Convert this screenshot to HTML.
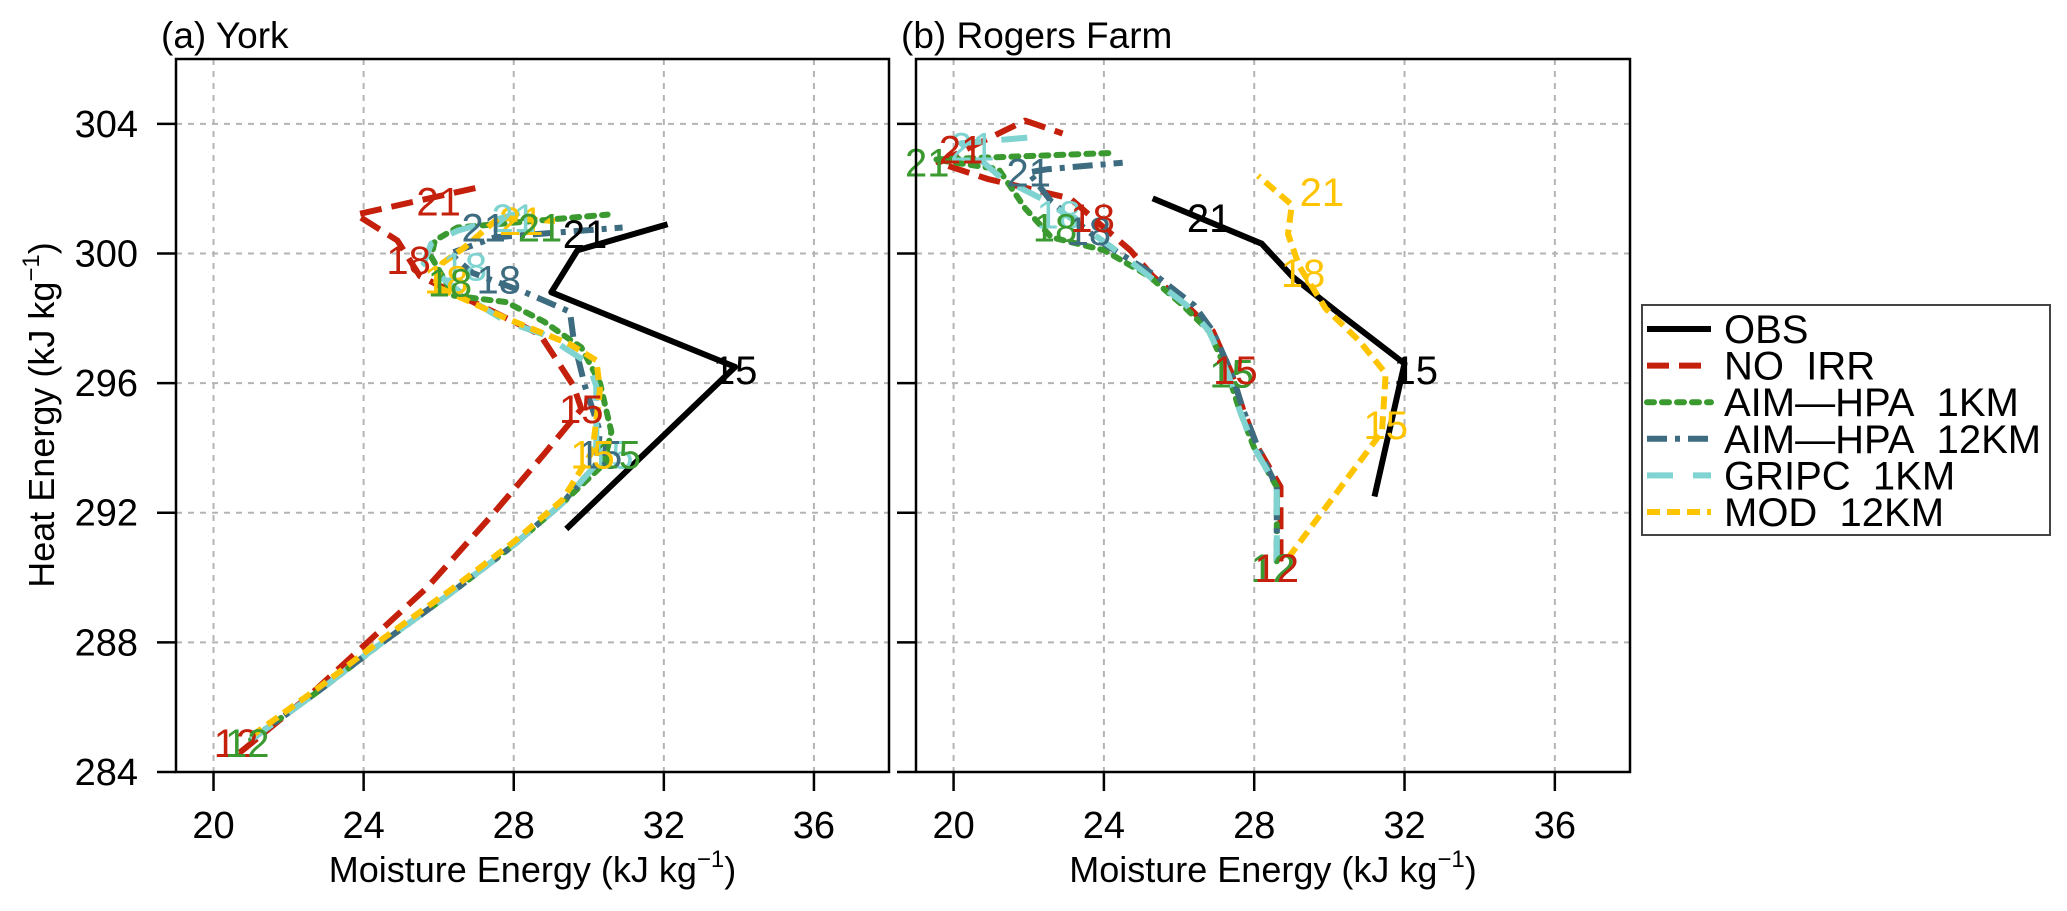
<!DOCTYPE html>
<html><head><meta charset="utf-8">
<style>
html,body{margin:0;padding:0;background:#fff;}
svg{display:block;font-family:"Liberation Sans","DejaVu Sans",sans-serif;}
</style></head>
<body>
<svg id="chart" width="2067" height="911" viewBox="0 0 2067 911"></svg>
<script>
// ---- data ----
const seriesNames = ["OBS","NO IRR","AIM-HPA 1KM","AIM-HPA 12KM","GRIPC 1KM","MOD 12KM"];
const xTicks = [20,24,28,32,36];
const yTicks = [284,288,292,296,300,304];

// Panel (a) York : [moisture, heat]
const yorkObs   = [[29.4,291.5],[33.9,296.5],[29.0,298.8],[29.7,300.1],[32.1,300.9]];
const yorkNoIrr = [[20.7,284.6],[22.5,286.3],[24.1,288.0],[25.7,289.7],[27.4,291.9],[28.8,293.8],[29.8,295.2],[29.6,295.9],[28.7,297.5],[27.1,298.4],[25.5,299.3],[24.9,300.4],[23.8,301.2],[27.1,302.05]];
const yorkAim1  = [[21.0,285.0],[22.8,286.5],[24.5,288.0],[26.3,289.5],[28.0,291.0],[29.3,292.3],[30.4,293.5],[30.6,294.5],[30.3,296.0],[29.8,297.1],[28.8,297.9],[27.8,298.5],[26.4,298.7],[25.8,299.9],[25.9,300.4],[26.5,300.8],[30.5,301.2]];
const yorkAim12 = [[21.0,285.0],[22.8,286.5],[24.5,288.0],[26.3,289.5],[28.0,291.0],[29.3,292.3],[30.2,293.5],[30.3,294.5],[29.9,295.9],[29.6,297.3],[29.5,298.2],[28.3,298.8],[26.9,299.4],[26.3,300.0],[27.5,300.5],[30.9,300.8]];
const yorkGripc = [[21.0,285.0],[22.8,286.5],[24.5,288.0],[26.3,289.5],[28.0,291.0],[29.3,292.3],[30.2,293.5],[30.2,294.6],[30.2,295.9],[30.0,296.6],[28.8,297.5],[27.8,297.9],[26.8,298.6],[25.6,299.7],[25.8,300.3],[26.5,300.7],[28.6,301.4]];
const yorkMod   = [[21.0,285.1],[22.8,286.6],[24.5,288.1],[26.3,289.6],[28.0,291.1],[29.3,292.4],[30.1,293.9],[30.3,295.8],[30.2,296.7],[29.5,297.2],[27.8,298.0],[25.9,299.0],[26.1,299.7],[26.7,300.2],[27.6,301.1],[29.1,301.0]];

// Panel (b) Rogers Farm
const rogersObs   = [[31.2,292.5],[32.0,296.6],[30.2,298.2],[29.0,299.3],[28.2,300.3],[25.3,301.7]];
const rogersNoIrr = [[28.7,290.5],[28.7,292.8],[28.1,294.0],[27.7,295.2],[27.4,296.3],[26.9,297.6],[26.2,298.4],[25.3,299.3],[24.7,300.1],[23.1,301.7],[20.9,302.3],[19.6,302.8],[21.9,304.1],[22.9,303.7]];
const rogersAim1  = [[28.6,290.5],[28.6,292.8],[28.0,294.0],[27.6,295.2],[27.3,296.3],[26.8,297.6],[26.1,298.4],[25.2,299.3],[24.0,300.1],[22.6,300.5],[21.9,301.4],[21.2,302.6],[19.5,302.9],[24.2,303.1]];
const rogersAim12 = [[28.6,290.5],[28.6,292.8],[28.1,294.0],[27.7,295.2],[27.4,296.3],[26.9,297.6],[26.4,298.4],[25.4,299.3],[24.0,300.3],[22.6,301.6],[22.0,302.5],[22.5,302.6],[24.5,302.8]];
const rogersGripc = [[28.6,290.5],[28.6,292.8],[28.0,294.0],[27.6,295.2],[27.3,296.3],[26.8,297.6],[26.2,298.4],[25.2,299.3],[24.2,300.2],[22.5,301.6],[21.3,302.3],[20.2,303.4],[22.2,303.6]];
const rogersMod   = [[28.9,290.6],[31.4,294.5],[31.5,296.3],[30.8,297.3],[29.9,298.3],[29.2,299.6],[28.9,300.6],[29.0,301.5],[28.1,302.4]];

// hour labels: [series index, moisture, heat, text]
const yorkLabels = [
 [1,20.6,284.9,"12"],[2,20.9,284.9,"12"],
 [0,33.9,296.4,"15"],[0,29.9,300.6,"21"],
 [1,29.8,295.2,"15"],[1,25.2,299.8,"18"],[1,26.0,301.6,"21"],
 [4,30.6,293.8,"15"],[3,30.3,293.8,"15"],[2,30.8,293.8,"15"],[5,30.1,293.8,"15"],
 [4,26.7,299.6,"18"],[5,26.2,299.2,"18"],[2,26.3,299.1,"18"],[3,27.6,299.2,"18"],
 [5,28.2,301.0,"21"],[4,28.0,301.1,"21"],[3,27.2,300.8,"21"],[2,28.7,300.8,"21"]
];
const rogersLabels = [
 [0,32.3,296.4,"15"],[0,26.8,301.1,"21"],
 [3,28.5,290.3,"12"],[2,28.5,290.3,"12"],[1,28.6,290.3,"12"],
 [3,27.4,296.3,"15"],[2,27.4,296.3,"15"],[1,27.5,296.4,"15"],
 [5,31.5,294.7,"15"],[5,29.3,299.4,"18"],[5,29.8,301.9,"21"],
 [4,22.8,301.2,"18"],[3,23.6,300.7,"18"],[2,22.7,300.8,"18"],[1,23.7,301.1,"18"],
 [2,19.3,302.8,"21"],[4,20.5,303.3,"21"],[1,20.2,303.2,"21"],[3,22.0,302.5,"21"]
];

// ---- styles ----
const colors = ["#000000","#c4200c","#3a9a30","#3d6b80","#7fd3d0","#ffc400"];
const dashes = ["", "22 10", "7 8", "20 8 5 8", "26 20", "13 7"];
const xMin=19, xMax=38, yMin=284, yMax=306;
const panels = [
  {x0:176, x1:889, y0:59, y1:772, title:"(a) York", name:"york", series:[yorkObs,yorkNoIrr,yorkAim1,yorkAim12,yorkGripc,yorkMod], labels:yorkLabels, ylab:true},
  {x0:916, x1:1630, y0:59, y1:772, title:"(b) Rogers Farm", name:"rogers-farm", series:[rogersObs,rogersNoIrr,rogersAim1,rogersAim12,rogersGripc,rogersMod], labels:rogersLabels, ylab:false}
];
const NS="http://www.w3.org/2000/svg";
const svg=document.getElementById('chart');
function mk(tag,attrs,parent){const e=document.createElementNS(NS,tag);for(const k in attrs)e.setAttribute(k,attrs[k]);(parent||svg).appendChild(e);return e;}

panels.forEach(p=>{
  const sx=v=>p.x0+(v-xMin)/(xMax-xMin)*(p.x1-p.x0);
  const sy=v=>p.y1-(v-yMin)/(yMax-yMin)*(p.y1-p.y0);
  const g=mk('g',{});
  
  
  xTicks.forEach(t=>{
    const l=mk('line',{x1:sx(t),x2:sx(t),y1:p.y0,y2:p.y1,stroke:'#b4b4b4','stroke-width':2,'stroke-dasharray':'6 6'},g);
    
    
    const tk=mk('line',{x1:sx(t),x2:sx(t),y1:p.y1,y2:p.y1+19,stroke:'#000','stroke-width':2.5},g);
    
    
    const tl=mk('text',{x:sx(t),y:p.y1+66,'font-size':38,'text-anchor':'middle',fill:'#000'},g);
    tl.textContent=t;
    
    
  });
  yTicks.forEach(t=>{
    if(t>yMin){
      const l=mk('line',{x1:p.x0,x2:p.x1,y1:sy(t),y2:sy(t),stroke:'#b4b4b4','stroke-width':2,'stroke-dasharray':'6 6'},g);
      
      
    }
    const tk=mk('line',{x1:p.x0-19,x2:p.x0,y1:sy(t),y2:sy(t),stroke:'#000','stroke-width':2.5},g);
    
    
    if(p.ylab){
      const tl=mk('text',{x:p.x0-38,y:sy(t)+13,'font-size':38,'text-anchor':'end',fill:'#000'},g);
      tl.textContent=t;
      
      
    }
  });
  p.series.forEach((s,i)=>{
    const pts=s.map(d=>sx(d[0]).toFixed(1)+','+sy(d[1]).toFixed(1)).join(' ');
    const pl=mk('polyline',{points:pts,fill:'none',stroke:colors[i],'stroke-width':6,'stroke-linejoin':'round','stroke-linecap':i==2?'round':'butt','stroke-dasharray':dashes[i]},g);
    
    
  });
  p.labels.forEach(l=>{
    const t=mk('text',{x:sx(l[1]),y:sy(l[2])+14,'font-size':40,'text-anchor':'middle',fill:colors[l[0]]},g);
    t.textContent=l[3];
    
    
  });
  const fr=mk('rect',{x:p.x0,y:p.y0,width:p.x1-p.x0,height:p.y1-p.y0,fill:'none',stroke:'#000','stroke-width':2.5},g);
  
  
  const ti=mk('text',{x:p.x0-15,y:48,'font-size':37,fill:'#000'},g);
  ti.textContent=p.title;
  
  
  const xt=mk('text',{x:(p.x0+p.x1)/2,y:882,'font-size':36,'text-anchor':'middle',fill:'#000'},g);
  xt.innerHTML='Moisture Energy (kJ kg<tspan dy="-15" font-size="24">−1</tspan><tspan dy="15">)</tspan>';
  
  
});

const yt=mk('text',{x:0,y:0,'font-size':36,'text-anchor':'middle',fill:'#000',transform:'translate(54,415) rotate(-90)'});
yt.innerHTML='Heat Energy (kJ kg<tspan dy="-15" font-size="24">−1</tspan><tspan dy="15">)</tspan>';



const lg=mk('g',{});


const lb=mk('rect',{x:1642,y:305,width:408,height:230,fill:'#fff',stroke:'#444','stroke-width':2},lg);


seriesNames.forEach((n,i)=>{
  const cy=329+i*36.6;
  const e=mk('g',{},lg);
  
  
  mk('line',{x1:1647,x2:1711,y1:cy,y2:cy,stroke:colors[i],'stroke-width':6,'stroke-linecap':i==2?'round':'butt','stroke-dasharray':dashes[i]},e);
  const t=mk('text',{x:1724,y:cy+14,'font-size':40,fill:'#000'},e);
  t.textContent=n.replace('-','—').replace(' ','\u00a0\u00a0');
});
</script>
</body></html>
